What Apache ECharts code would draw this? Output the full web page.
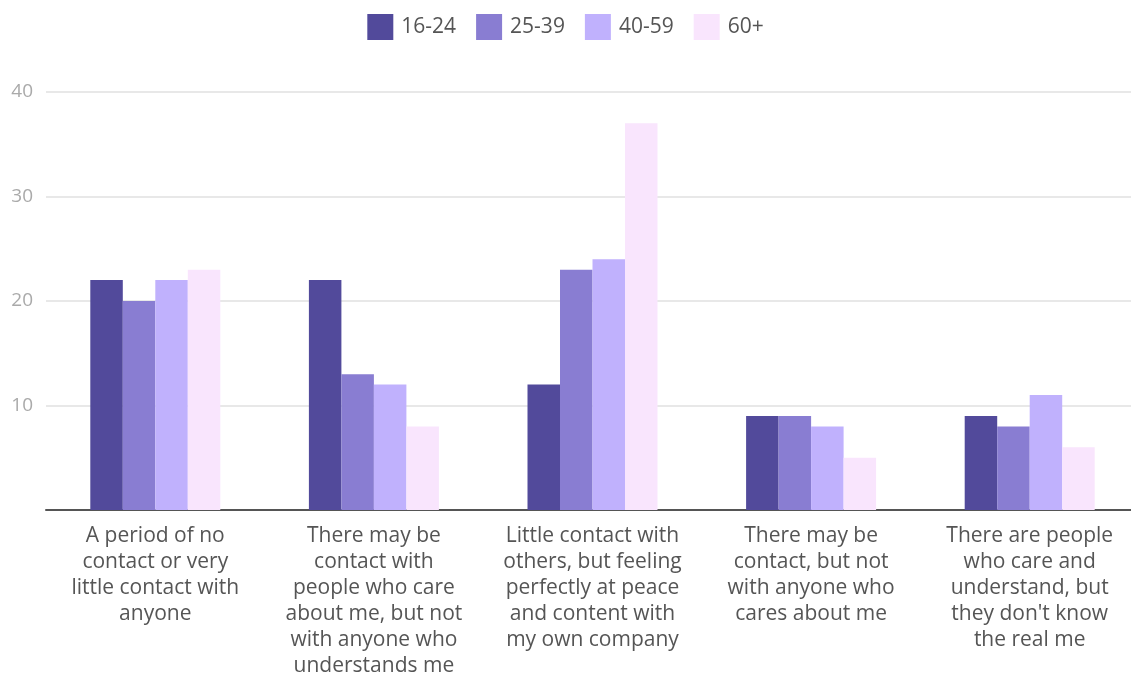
<!DOCTYPE html>
<html>
<head>
<meta charset="utf-8">
<script src="https://cdn.jsdelivr.net/npm/echarts@6/dist/echarts.min.js"></script>
<style>html,body{margin:0;padding:0;background:#fff}#c{width:1131px;height:675px}</style>
</head>
<body>
<div id="c"></div>
<script>
var categories = [
  "A period of no\ncontact or very\nlittle contact with\nanyone",
  "There may be\ncontact with\npeople who care\nabout me, but not\nwith anyone who\nunderstands me",
  "Little contact with\nothers, but feeling\nperfectly at peace\nand content with\nmy own company",
  "There may be\ncontact, but not\nwith anyone who\ncares about me",
  "There are people\nwho care and\nunderstand, but\nthey don't know\nthe real me"
];
var seriesNames = ["16-24", "25-39", "40-59", "60+"];
var age16_24 = [22, 22, 12, 9, 9];
var age25_39 = [20, 13, 23, 9, 8];
var age40_59 = [22, 12, 24, 8, 11];
var age60plus = [23, 8, 37, 5, 6];
var colors = ["#524a9b", "#897dd2", "#c0b1fd", "#f9e5fd"];
var values = [age16_24, age25_39, age40_59, age60plus];

var chart = echarts.init(document.getElementById('c'), null, {renderer: 'canvas'});
var font = '"Open Sans", Lato, sans-serif';
chart.setOption({
  animation: false,
  color: colors,
  legend: {
    top: 9,
    left: 'center',
    itemWidth: 26,
    itemHeight: 26,
    itemGap: 20,
    icon: 'rect',
    textStyle: {fontFamily: font, fontSize: 21, color: '#555', padding: [0, 0, 0, 3]},
    data: seriesNames
  },
  grid: {left: 46, width: 1093, top: 92, bottom: 165, containLabel: false, outerBoundsMode: 'none'},
  xAxis: {
    type: 'category',
    data: categories,
    axisLine: {lineStyle: {color: '#555', width: 2}},
    axisTick: {show: false},
    axisLabel: {
      interval: 0,
      margin: 13,
      fontFamily: font,
      fontSize: 21,
      lineHeight: 26,
      color: '#555'
    }
  },
  yAxis: {
    type: 'value',
    min: 0,
    max: 40,
    interval: 10,
    axisLine: {show: false},
    axisTick: {show: false},
    splitLine: {lineStyle: {color: '#e8e8e8', width: 2}},
    axisLabel: {
      margin: 13,
      fontFamily: font,
      fontSize: 19,
      color: '#aaa',
      formatter: function (v) { return v === 0 ? '' : String(v); }
    }
  },
  series: seriesNames.map(function (n, i) {
    return {
      name: n,
      type: 'bar',
      data: values[i],
      barGap: '0%',
      barWidth: 32.5,
      itemStyle: {color: colors[i]}
    };
  })
});
</script>
</body>
</html>
